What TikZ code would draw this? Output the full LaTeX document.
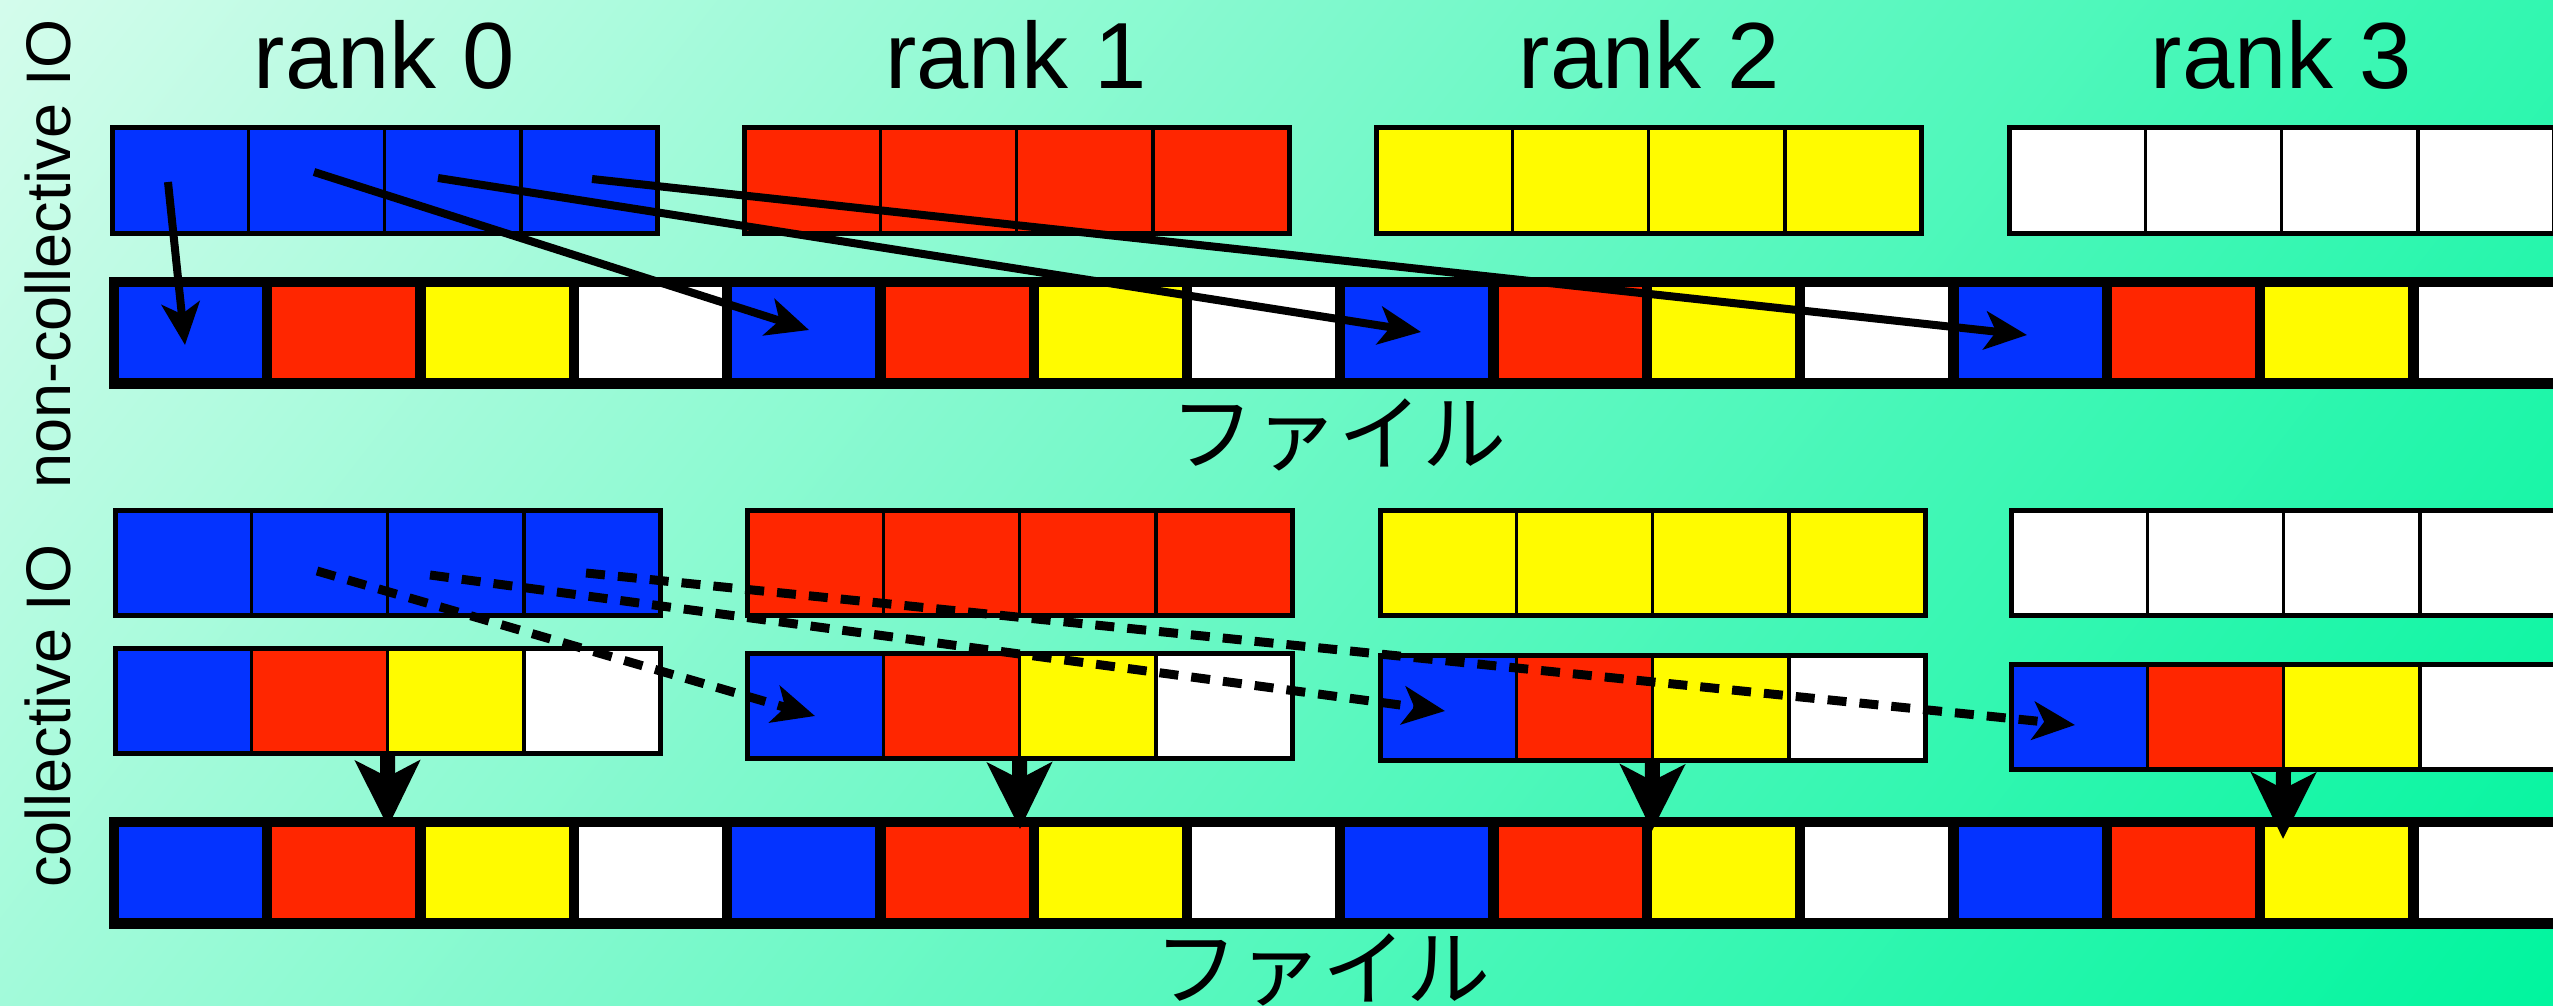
\documentclass[tikz,border=0pt]{standalone}
\usepackage{fontspec}
\setmainfont{Liberation Sans}
\newfontfamily\jpfont{Noto Sans CJK JP}
\usetikzlibrary{arrows.meta}
\definecolor{cblue}{RGB}{4,51,255}
\definecolor{cred}{RGB}{255,38,0}
\definecolor{cyellow}{RGB}{255,251,0}
\definecolor{bgA}{RGB}{212,252,236}
\definecolor{bgB}{RGB}{0,245,158}
\begin{document}
\begin{tikzpicture}[x=1pt,y=1pt,
  cell/.style={draw=black, line width=3.5pt, minimum width=136.25pt, minimum height=105pt, inner sep=0pt, outer sep=0pt, anchor=north west},
  boxframe/.style={draw=black, line width=5pt},
  fcell/.style={minimum width=143pt, minimum height=91pt, inner sep=0pt, outer sep=0pt, anchor=north west},
  filebar/.style={fill=black, minimum width=2600pt, minimum height=112pt, inner sep=0pt, outer sep=0pt, anchor=north west},
  ranklabel/.style={font=\fontsize{94}{100}\selectfont, anchor=base, inner sep=0pt},
  sidelabel/.style={font=\fontsize{63}{70}\selectfont, anchor=base, rotate=90, inner sep=0pt},
  filelabel/.style={font=\jpfont\fontsize{84}{90}\selectfont, inner sep=0pt},
  solidarrow/.style={line width=8pt, -{Stealth[length=42pt,width=38pt,inset=11pt]}},
  dasharrow/.style={line width=9pt, dash pattern=on 19pt off 13pt, -{Stealth[length=42pt,width=38pt,inset=11pt]}},
  bigarrow/.style={line width=15pt, -{Stealth[length=66pt,width=64pt,inset=16pt]}},
]
\useasboundingbox (0,0) rectangle (2553,-1006);
\begin{scope}
\clip (0,0) rectangle (2553,-1006);
% background gradient
\begin{scope}[transform canvas={rotate=-38}]
  \shade[left color=bgA, right color=bgB] (0,-793) rectangle (2632,1573);
\end{scope}

% labels
\node[ranklabel] (l0) at (384.5,-89) {rank 0};
\node[ranklabel] (l1) at (1016,-89) {rank 1};
\node[ranklabel] (l2) at (1649.5,-89) {rank 2};
\node[ranklabel] (l3) at (2281.5,-89) {rank 3};
\node[sidelabel] (side1) at (70,-254) {non-collective IO};
\node[sidelabel] (side2) at (70,-716) {collective IO};
\node[filelabel] (fl1) at (1338,-435) {ファイル};
\node[filelabel] (fl2) at (1322,-970) {ファイル};

% row A: non-collective rank buffers
\foreach \r/\x/\col in {0/112/cblue,1/744/cred,2/1376/cyellow,3/2009/white}{
  \foreach \c in {0,...,3}{
    \node[cell, fill=\col] (a\r-\c) at ({\x+136.25*\c}, -128) {};
  }
  \draw[boxframe] (a\r-0.north west) rectangle (a\r-3.south east);
}
% row B: collective rank buffers
\foreach \r/\x/\col in {0/115/cblue,1/747/cred,2/1380/cyellow,3/2011/white}{
  \foreach \c in {0,...,3}{
    \node[cell, fill=\col] (b\r-\c) at ({\x+136.25*\c}, -510) {};
  }
  \draw[boxframe] (b\r-0.north west) rectangle (b\r-3.south east);
}
% row C: collective exchanged buffers
\foreach \r/\x/\y in {0/115/648,1/747/653,2/1380/655,3/2011/664}{
  \foreach \c/\col in {0/cblue,1/cred,2/cyellow,3/white}{
    \node[cell, fill=\col] (c\r-\c) at ({\x+136.25*\c}, -\y) {};
  }
  \draw[boxframe] (c\r-0.north west) rectangle (c\r-3.south east);
}

% file bars
\node[filebar] (file1) at (109,-277) {};
\node[filebar] (file2) at (109,-817) {};
\foreach \g in {0,...,3}{
  \foreach \c/\col in {0/cblue,1/cred,2/cyellow,3/white}{
    \node[fcell, fill=\col] (f1-\g-\c) at ({119+153.3*(4*\g+\c)}, -287) {};
    \node[fcell, fill=\col] (f2-\g-\c) at ({119+153.3*(4*\g+\c)}, -827) {};
  }
}

% non-collective arrows
\coordinate (sa0) at (168,-182);
\coordinate (sa1) at (314,-172);
\coordinate (sa2) at (438,-178);
\coordinate (sa3) at (592,-179);
\coordinate (ta0) at (185,-345);
\coordinate (ta1) at (809,-330);
\coordinate (ta2) at (1421,-332);
\coordinate (ta3) at (2027,-335);
\foreach \i in {0,...,3}{
  \draw[solidarrow] (sa\i) -- (ta\i);
}

% collective dashed arrows
\coordinate (sb1) at (317,-571);
\coordinate (sb2) at (430,-575);
\coordinate (sb3) at (586,-573);
\coordinate (tb1) at (815,-716);
\coordinate (tb2) at (1445,-711);
\coordinate (tb3) at (2075,-725);
\foreach \i in {1,2,3}{
  \draw[dasharrow] (sb\i) -- (tb\i);
}

% collective write arrows
\coordinate (tc0) at (388,-827);
\coordinate (tc1) at (1020,-829);
\coordinate (tc2) at (1652,-831);
\coordinate (tc3) at (2283,-839);
\foreach \i in {0,...,3}{
  \draw[bigarrow] (c\i-1.south east) -- (tc\i);
}
\end{scope}
\end{tikzpicture}
\end{document}
